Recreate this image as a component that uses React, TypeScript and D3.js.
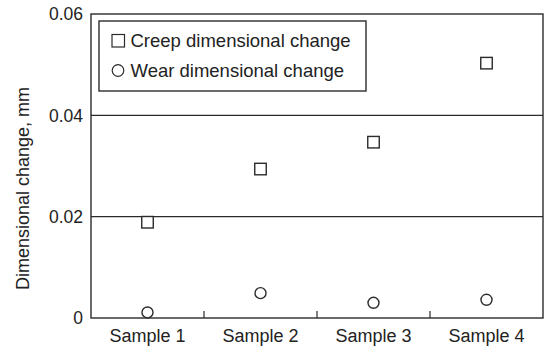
import React from 'react';
import * as d3 from 'd3';

const samples = ['Sample 1', 'Sample 2', 'Sample 3', 'Sample 4'];
const creep = [0.0189, 0.0294, 0.0347, 0.0503];
const wear = [0.0011, 0.0049, 0.003, 0.0036];
const yTicks = [0, 0.02, 0.04, 0.06];
const yTickLabels = ['0', '0.02', '0.04', '0.06'];
const legendLabels = ['Creep dimensional change', 'Wear dimensional change'];

const width = 544;
const height = 346;
const left = 91;
const right = 543;
const top = 14;
const bottom = 318;
const ink = '#2b2b2b';
const font = 'Liberation Sans, Arial, sans-serif';

export default function App() {
  const x = d3.scaleBand().domain(samples).range([left, right]);
  const y = d3.scaleLinear().domain([0, 0.06]).range([bottom, top]);
  const sq = 11.5;
  const r = 5.5;

  return (
    <svg width={width} height={height} style={{ position: 'absolute', left: 0, top: 0 }} fontFamily={font}>
      <rect width={width} height={height} fill="#fff" />
      {/* gridlines */}
      {yTicks.filter((t) => t > 0 && t < 0.06).map((t) => (
        <line key={t} x1={left} x2={right} y1={y(t)} y2={y(t)} stroke={ink} strokeWidth={1.2} />
      ))}
      {/* frame */}
      <rect x={left} y={top} width={right - left} height={bottom - top} fill="none" stroke={ink} strokeWidth={1.4} />
      {/* x ticks between bands */}
      {samples.slice(1).map((s) => (
        <line key={s} x1={x(s)} x2={x(s)} y1={bottom} y2={bottom - 7} stroke={ink} strokeWidth={1.2} />
      ))}
      {/* y tick labels */}
      {yTicks.map((t, i) => (
        <text key={t} x={83} y={y(t)} dy="0.36em" textAnchor="end" fontSize={17.5} fill="#222">{yTickLabels[i]}</text>
      ))}
      {/* x labels */}
      {samples.map((s) => (
        <text key={s} x={x(s) + x.bandwidth() / 2} y={342} textAnchor="middle" fontSize={18} fill="#222">{s}</text>
      ))}
      <text transform={`translate(29,188.5) rotate(-90)`} textAnchor="middle" fontSize={18} fill="#222">Dimensional change, mm</text>
      {/* creep squares */}
      {creep.map((v, i) => (
        <rect key={i} x={x(samples[i]) + x.bandwidth() / 2 - sq / 2} y={y(v) - sq / 2} width={sq} height={sq} fill="#fff" stroke={ink} strokeWidth={1.4} />
      ))}
      {/* wear circles */}
      {wear.map((v, i) => (
        <circle key={i} cx={x(samples[i]) + x.bandwidth() / 2} cy={y(v)} r={r} fill="#fff" stroke={ink} strokeWidth={1.4} />
      ))}
      {/* legend */}
      <rect x={99} y={21} width={267} height={70} fill="#fff" stroke={ink} strokeWidth={1.4} />
      <rect x={112} y={34.5} width={12.5} height={12.5} fill="#fff" stroke={ink} strokeWidth={1.2} />
      <text x={130.5} y={47} fontSize={18.5} fill="#222">{legendLabels[0]}</text>
      <circle cx={118} cy={70.5} r={5.8} fill="#fff" stroke={ink} strokeWidth={1.2} />
      <text x={130.5} y={77} fontSize={18.5} fill="#222">{legendLabels[1]}</text>
    </svg>
  );
}
